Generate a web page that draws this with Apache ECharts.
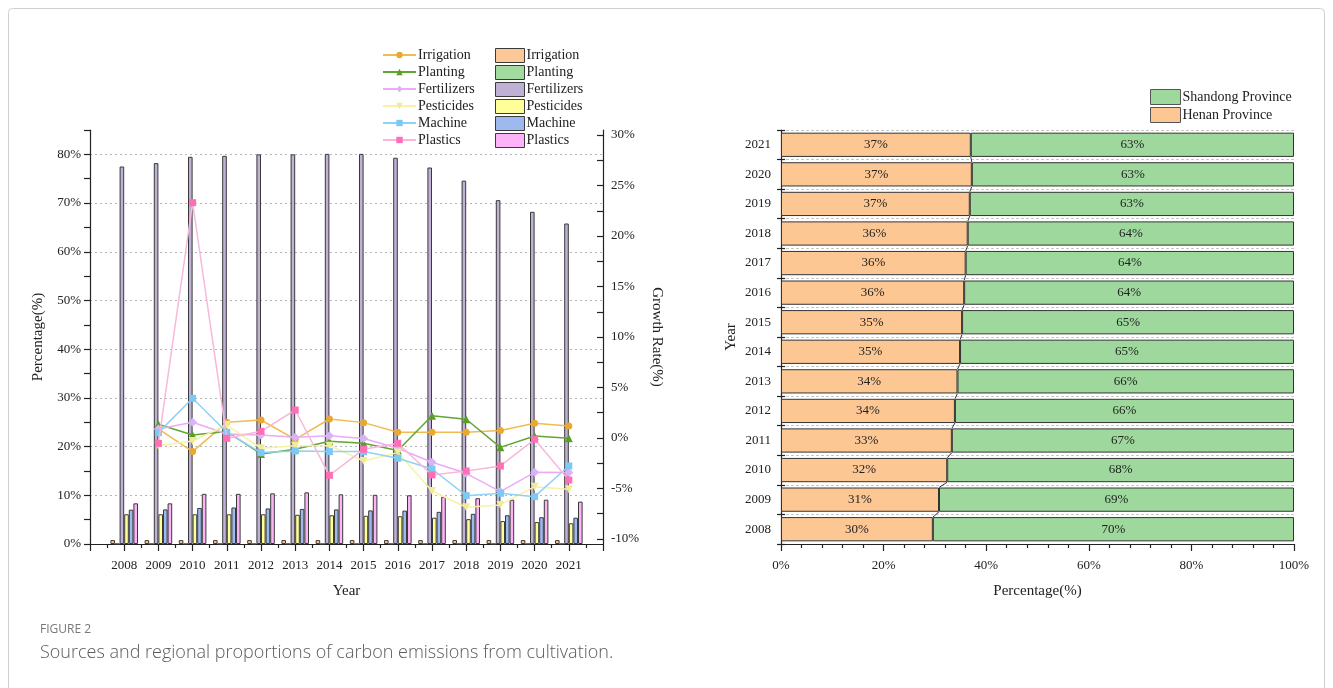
<!DOCTYPE html>
<html>
<head>
<meta charset="utf-8">
<script src="https://cdn.jsdelivr.net/npm/echarts@6/dist/echarts.min.js"></script>
<style>
  html, body { margin: 0; padding: 0; background: #ffffff; }
  #chart { width: 1333px; height: 688px; }
</style>
</head>
<body>
<div id="chart"></div>
<script>
// ---- Source shares (% of cultivation carbon emissions), 2008-2021 ----
const years = [2008, 2009, 2010, 2011, 2012, 2013, 2014, 2015, 2016, 2017, 2018, 2019, 2020, 2021];
const shareIrrigation  = [0.8, 0.8, 0.8, 0.8, 0.8, 0.8, 0.8, 0.8, 0.8, 0.8, 0.8, 0.8, 0.8, 0.8];
const sharePlanting    = [0, 0, 0, 0, 0, 0, 0, 0, 0, 0, 0, 0, 0, 0];
const shareFertilizers = [77.5, 78.2, 79.5, 79.7, 80.0, 80.0, 80.1, 80.1, 79.3, 77.3, 74.6, 70.6, 68.2, 65.8];
const sharePesticides  = [6.1, 6.1, 6.1, 6.1, 6.1, 6.0, 5.9, 5.8, 5.7, 5.4, 5.1, 4.7, 4.5, 4.25];
const shareMachine     = [7.05, 7.1, 7.4, 7.5, 7.3, 7.2, 7.1, 6.9, 6.85, 6.6, 6.2, 5.9, 5.5, 5.4];
const sharePlastics    = [8.35, 8.35, 10.3, 10.3, 10.4, 10.6, 10.2, 10.1, 10.0, 9.7, 9.4, 9.1, 9.1, 8.7];

// ---- Year-on-year growth rates (%), 2009-2021 ----
const growthYears = [2009, 2010, 2011, 2012, 2013, 2014, 2015, 2016, 2017, 2018, 2019, 2020, 2021];
const growthIrrigation  = [0.9, -1.35, 1.55, 1.78, -0.13, 1.88, 1.52, 0.56, 0.56, 0.56, 0.73, 1.45, 1.19];
const growthPlanting    = [1.36, 0.3, 0.63, -1.58, -1.12, -0.33, -0.53, -1.25, 2.21, 1.85, -0.93, 0.2, -0.03];
const growthFertilizers = [0.89, 1.55, 0.4, 0.3, 0.07, 0.23, -0.05, -1.02, -2.41, -3.5, -5.31, -3.4, -3.43];
const growthPesticides  = [-0.76, -0.3, 1.29, -1.02, -0.76, -0.76, -2.28, -1.45, -5.25, -6.86, -6.63, -4.82, -5.08];
const growthMachine     = [0.53, 3.93, 0.56, -1.45, -1.29, -1.35, -1.35, -2.01, -3.07, -5.71, -5.48, -5.81, -2.77];
const growthPlastics    = [-0.53, 23.3, -0.03, 0.66, 2.77, -3.7, -1.12, -0.53, -3.66, -3.27, -2.77, -0.13, -4.16];

// ---- Regional proportions (%), 2008-2021 ----
const henan    = [29.6, 30.8, 32.4, 33.3, 33.9, 34.4, 34.9, 35.3, 35.7, 36.0, 36.4, 36.8, 37.2, 37.0];
const shandong = [70.4, 69.2, 67.6, 66.7, 66.1, 65.6, 65.1, 64.7, 64.3, 64.0, 63.6, 63.2, 62.8, 63.0];

// ---- Tick values ----
const growthTicks = [-10, -7.5, -5, -2.5, 0, 2.5, 5, 7.5, 10, 12.5, 15, 17.5, 20, 22.5, 25, 27.5, 30];
const growthLabels = [-10, -5, 0, 5, 10, 15, 20, 25, 30];

const SERIF = 'Liberation Serif';
const INK = '#222';

const sources = ['Irrigation', 'Planting', 'Fertilizers', 'Pesticides', 'Machine', 'Plastics'];
const barColors = ['#fdc897', '#a3daa0', '#bfb0d6', '#ffff99', '#9db9ee', '#fdb3f7'];
const shares = [shareIrrigation, sharePlanting, shareFertilizers, sharePesticides, shareMachine, sharePlastics];

const lineStyles = [
  { line: '#efbb55', mark: '#e9a931', symbol: 'circle', size: 7, rot: 0 },
  { line: '#62a530', mark: '#5a9e28', symbol: 'triangle', size: 8, rot: 0 },
  { line: '#eeaaf6', mark: '#d7b4f8', symbol: 'diamond', size: 9, rot: 0 },
  { line: '#f6f2a6', mark: '#f0ec96', symbol: 'triangle', size: 8, rot: 180 },
  { line: '#8fd2f6', mark: '#7cc9f6', symbol: 'rect', size: 7, rot: 0 },
  { line: '#f9b8da', mark: '#ff6eb6', symbol: 'rect', size: 7, rot: 0 }
];
const growths = [growthIrrigation, growthPlanting, growthFertilizers, growthPesticides, growthMachine, growthPlastics];
const RATE = ' rate';

const barSeries = sources.map((name, k) => ({
  name: name,
  type: 'bar',
  xAxisIndex: 0,
  yAxisIndex: 0,
  barWidth: 4.6,
  barGap: '0%',
  itemStyle: { color: barColors[k], borderColor: '#3a3a3a', borderWidth: 1 },
  data: years.map((y, i) => [y, shares[k][i]]),
  z: 2
}));

const lineSeries = sources.map((name, k) => ({
  name: name + RATE,
  type: 'line',
  xAxisIndex: 0,
  yAxisIndex: 1,
  symbol: lineStyles[k].symbol,
  symbolSize: lineStyles[k].size,
  symbolRotate: lineStyles[k].rot,
  showAllSymbol: true,
  lineStyle: { color: lineStyles[k].line, width: 1.5 },
  itemStyle: { color: lineStyles[k].mark, borderWidth: 0 },
  data: growthYears.map((y, i) => [y, growths[k][i]]),
  z: 3 + k
}));

// thin connectors between neighbouring Henan/Shandong boundaries
const connectorData = henan.slice(0, -1).map((v, i) => [v, i, henan[i + 1]]);
const BAR_FRACTION = 0.82;

const legendText = { fontFamily: SERIF, fontSize: 14, color: INK, padding: [0, 0, 0, -3] };

const option = {
  animation: false,
  backgroundColor: '#ffffff',
  textStyle: { fontFamily: SERIF, color: INK },
  graphic: [
    { type: 'rect', shape: { x: 8.5, y: 8.5, width: 1316, height: 720, r: 4 },
      style: { fill: 'none', stroke: '#cfcfcf', lineWidth: 1 }, silent: true, z: -1 },
    { type: 'text', left: 40, top: 624,
      style: { text: 'FIGURE 2', fill: '#777', font: '12px "Open Sans"' } },
    { type: 'text', left: 40, top: 644,
      style: { text: 'Sources and regional proportions of carbon emissions from cultivation.', fill: '#5a5a5a', font: '300 18px "Open Sans"' } }
  ],
  legend: [
    {
      data: sources.map(s => s + RATE),
      formatter: n => n.replace(RATE, ''),
      orient: 'vertical', left: 382, top: 48, padding: 0,
      itemWidth: 33, itemHeight: 8, itemGap: 3,
      textStyle: legendText,
      selectedMode: false
    },
    {
      data: sources.map(s => ({ name: s, icon: 'rect' })),
      orient: 'vertical', left: 495, top: 48, padding: 0,
      itemWidth: 29, itemHeight: 14, itemGap: 2,
      textStyle: legendText,
      itemStyle: { borderColor: '#3a3a3a', borderWidth: 1 },
      selectedMode: false
    },
    {
      data: [{ name: 'Shandong Province', icon: 'rect' }, { name: 'Henan Province', icon: 'rect' }],
      orient: 'vertical', left: 1150, top: 89, padding: 0,
      itemWidth: 30, itemHeight: 15, itemGap: 2,
      textStyle: legendText,
      itemStyle: { borderColor: '#555', borderWidth: 1 },
      selectedMode: false
    }
  ],
  grid: [
    { left: 90, right: 730, top: 130, bottom: 144, containLabel: false },
    { left: 781, right: 39, top: 130, bottom: 144, containLabel: false }
  ],
  xAxis: [
    {
      type: 'value', gridIndex: 0, min: 2007, max: 2022, interval: 1,
      name: 'Year', nameLocation: 'middle', nameGap: 40,
      nameTextStyle: { fontFamily: SERIF, fontSize: 15, color: INK },
      axisLine: { show: true, onZero: false, lineStyle: { color: INK, width: 1.2 } },
      axisTick: { show: true, length: 7, lineStyle: { color: INK, width: 1.2 } },
      minorTick: { show: true, splitNumber: 2, length: 4, lineStyle: { color: INK, width: 1.2 } },
      axisLabel: { fontFamily: SERIF, fontSize: 13, color: INK, margin: 15,
        formatter: v => (v >= 2008 && v <= 2021) ? String(v) : '' },
      splitLine: { show: false }, minorSplitLine: { show: false }
    },
    {
      type: 'value', gridIndex: 1, min: 0, max: 100, interval: 20,
      name: 'Percentage(%)', nameLocation: 'middle', nameGap: 40,
      nameTextStyle: { fontFamily: SERIF, fontSize: 15, color: INK },
      axisLine: { show: true, lineStyle: { color: INK, width: 1.2 } },
      axisTick: { show: true, length: 7, lineStyle: { color: INK, width: 1.2 } },
      minorTick: { show: true, splitNumber: 5, length: 4, lineStyle: { color: INK, width: 1.2 } },
      axisLabel: { fontFamily: SERIF, fontSize: 13, color: INK, margin: 15, formatter: '{value}%' },
      splitLine: { show: false }, minorSplitLine: { show: false }
    }
  ],
  yAxis: [
    {
      type: 'value', gridIndex: 0, min: 0, max: 85, interval: 5, position: 'left',
      name: 'Percentage(%)', nameLocation: 'middle', nameGap: 44,
      nameTextStyle: { fontFamily: SERIF, fontSize: 15, color: INK },
      axisLine: { show: true, lineStyle: { color: INK, width: 1.2 } },
      axisTick: { show: true, length: 6, lineStyle: { color: INK, width: 1.2 } },
      axisLabel: { fontFamily: SERIF, fontSize: 13, color: INK, margin: 9,
        formatter: v => (v % 10 === 0 && v <= 80) ? v + '%' : '' },
      splitLine: { show: false }
    },
    {
      type: 'value', gridIndex: 0, min: -10.5, max: 30.5, position: 'right',
      name: 'Growth Rate(%)', nameLocation: 'middle', nameGap: 46, nameRotate: -90,
      nameTextStyle: { fontFamily: SERIF, fontSize: 15, color: INK },
      axisLine: { show: true, lineStyle: { color: INK, width: 1.2 } },
      axisTick: { show: true, inside: true, length: 6, customValues: growthTicks,
        lineStyle: { color: INK, width: 1.2 } },
      axisLabel: { fontFamily: SERIF, fontSize: 13, color: INK, margin: 8, customValues: growthLabels,
        formatter: v => v + '%' },
      splitLine: { show: false }
    },
    {
      // dotted guide lines every 10%
      type: 'value', gridIndex: 0, min: 0, max: 85, interval: 10, position: 'left',
      axisLine: { show: false }, axisTick: { show: false }, axisLabel: { show: false },
      splitLine: { show: true, showMinLine: false, showMaxLine: false,
        lineStyle: { color: '#b5b5b5', type: [2, 3], width: 1 } }
    },
    {
      type: 'category', gridIndex: 1, data: years.map(String),
      name: 'Year', nameLocation: 'middle', nameGap: 42,
      nameTextStyle: { fontFamily: SERIF, fontSize: 15, color: INK },
      axisLine: { show: true, lineStyle: { color: INK, width: 1.2 } },
      axisTick: { show: true, length: 4, lineStyle: { color: INK, width: 1.2 } },
      axisLabel: { fontFamily: SERIF, fontSize: 13, color: INK, margin: 10 },
      splitLine: { show: true, lineStyle: { color: '#c8c8c8', type: [3, 2], width: 1 } }
    },
    {
      type: 'category', gridIndex: 1, data: years.map(String), position: 'left',
      axisLine: { show: false },
      axisTick: { show: true, inside: true, length: 4, lineStyle: { color: INK, width: 1.2 } },
      axisLabel: { show: false }, splitLine: { show: false }
    }
  ],
  series: [
    ...barSeries,
    ...lineSeries,
    {
      name: 'Henan Province', type: 'bar', stack: 'region',
      xAxisIndex: 1, yAxisIndex: 3, barCategoryGap: '18%',
      itemStyle: { color: '#fdc794', borderColor: '#333', borderWidth: 1 },
      label: { show: true, position: 'inside', fontFamily: SERIF, fontSize: 13, color: INK,
        formatter: p => Math.round(p.value) + '%' },
      data: henan
    },
    {
      name: 'Shandong Province', type: 'bar', stack: 'region',
      xAxisIndex: 1, yAxisIndex: 3, barCategoryGap: '18%',
      itemStyle: { color: '#9ed89d', borderColor: '#333', borderWidth: 1 },
      label: { show: true, position: 'inside', fontFamily: SERIF, fontSize: 13, color: INK,
        formatter: p => Math.round(p.value) + '%' },
      data: shandong
    },
    {
      type: 'custom', xAxisIndex: 1, yAxisIndex: 3, silent: true, z: 5,
      data: connectorData,
      renderItem: (params, api) => {
        const half = api.size([0, 1])[1] * BAR_FRACTION / 2;
        const p0 = api.coord([api.value(0), api.value(1)]);
        const p1 = api.coord([api.value(2), api.value(1) + 1]);
        return {
          type: 'line',
          shape: { x1: p0[0], y1: p0[1] - half, x2: p1[0], y2: p1[1] + half },
          style: { stroke: '#333', lineWidth: 1 }
        };
      }
    }
  ]
};

const chart = echarts.init(document.getElementById('chart'), null, { renderer: 'canvas' });
chart.setOption(option);
</script>
</body>
</html>
